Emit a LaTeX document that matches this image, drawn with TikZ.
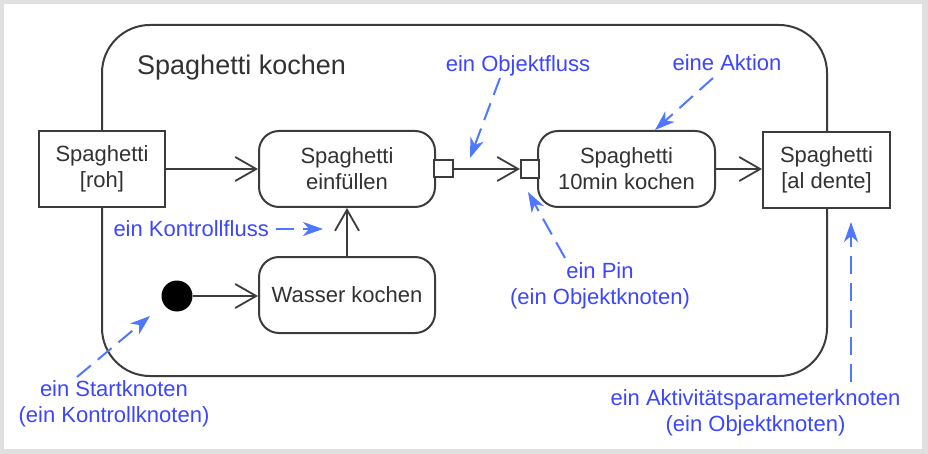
\documentclass[tikz,border=0pt]{standalone}
\usepackage{fontspec}
\setmainfont{Liberation Sans}
\usetikzlibrary{arrows.meta}
\definecolor{framegray}{RGB}{224,224,224}
\definecolor{linegray}{RGB}{60,60,60}
\definecolor{txtgray}{RGB}{50,50,50}
\definecolor{annblue}{RGB}{60,70,255}
\definecolor{dashblue}{RGB}{80,120,255}
\tikzset{
  base/.style={font=\fontsize{22pt}{26pt}\selectfont, text=txtgray, align=center, inner sep=0pt},
  objbox/.style={base, draw=linegray, line width=2pt, fill=white, rectangle},
  actbox/.style={base, draw=linegray, line width=2pt, fill=white, rectangle, rounded corners=20pt},
  pinbox/.style={draw=linegray, line width=2pt, fill=white, rectangle, inner sep=0pt},
  flow/.style={draw=linegray, line width=1.8pt, -{Straight Barb[length=21pt,width=24pt,line width=1.8pt]}},
  ann/.style={font=\fontsize{22pt}{26pt}\selectfont, text=annblue, align=center, inner sep=0pt},
  annarrow/.style={draw=dashblue, line width=2pt, dash pattern=on 18pt off 9pt, -{Stealth[length=20pt,width=14pt,inset=6pt]}},
}
\begin{document}
\begin{tikzpicture}[x=1pt,y=-1pt]
\useasboundingbox (0,0) rectangle (928,454);
\fill[framegray] (0,0) rectangle (928,454);
\fill[white] (4,4) rectangle (922,449);
% activity frame
\node[draw=linegray, line width=2pt, rounded corners=48pt, minimum width=725pt, minimum height=351pt, inner sep=0pt] (act) at (464.5,200.5) {};
\node[base, font=\fontsize{27pt}{32pt}\selectfont, anchor=west] (title) at (137,68) {Spaghetti kochen};
% nodes
\node[objbox, minimum width=126pt, minimum height=76pt] (roh) at (102,169) {Spaghetti\\{}[roh]};
\node[actbox, minimum width=176pt, minimum height=76pt] (fill) at (347,169) {Spaghetti\\einfüllen};
\node[actbox, minimum width=177pt, minimum height=76pt] (cook) at (626.5,169) {Spaghetti\\10min kochen};
\node[objbox, minimum width=127pt, minimum height=76pt] (dente) at (826.5,170) {Spaghetti\\{}[al dente]};
\node[actbox, minimum width=176pt, minimum height=76pt] (water) at (347,295) {Wasser kochen};
\node[circle, fill=black, minimum size=31pt, inner sep=0pt] (start) at (177,296) {};
\node[pinbox, minimum width=19pt, minimum height=17pt] (pinout) at (443.5,169) {};
\node[pinbox, minimum width=18pt, minimum height=18pt] (pinin) at (530,169) {};
% flows
\draw[flow] (roh.east) -- (fill.west);
\draw[flow] (pinout.east) -- (pinin.west);
\draw[flow] (cook.east) -- (dente.west |- cook.east);
\draw[flow] (water.north) -- (fill.south);
\draw[flow] (start.east) -- (water.west |- start.east);
% annotations
\node[ann] (objfl) at (518,66) {ein Objektfluss};
\node[ann] (aktion) at (727,63) {eine Aktion};
\node[ann] (pin) at (600,285.5) {ein Pin\\(ein Objektknoten)};
\node[ann, anchor=east] (kontr) at (269,229) {ein Kontrollfluss};
\node[ann] (startk) at (114,404) {ein Startknoten\\(ein Kontrollknoten)};
\node[ann] (param) at (755.5,412.5) {ein Aktivitätsparameterknoten\\(ein Objektknoten)};
\coordinate (a1s) at (500,78); \coordinate (a1e) at (470,158);
\coordinate (a2s) at (713,78); \coordinate (a2e) at (655,130);
\coordinate (a3s) at (565,258); \coordinate (a3e) at (528,192);
\coordinate (a4s) at (276,229); \coordinate (a4e) at (323,229);
\coordinate (a5s) at (77,377); \coordinate (a5e) at (150,316);
\coordinate (a6s) at (851,382); \coordinate (a6e) at (851,222);
\draw[annarrow] (a1s) -- (a1e);
\draw[annarrow] (a2s) -- (a2e);
\draw[annarrow] (a3s) -- (a3e);
\draw[annarrow] (a4s) -- (a4e);
\draw[annarrow] (a5s) -- (a5e);
\draw[annarrow] (a6s) -- (a6e);
\end{tikzpicture}
\end{document}
